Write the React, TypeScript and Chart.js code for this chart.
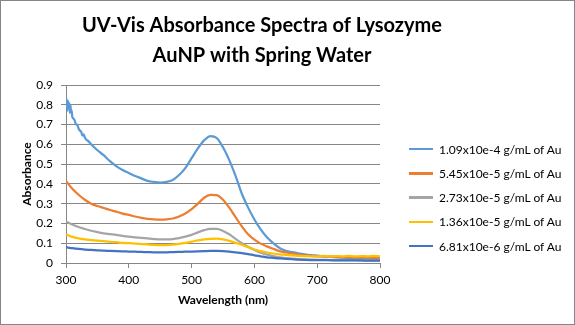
import React, { useEffect, useRef } from 'react';
import { Chart, registerables } from 'chart.js';

Chart.register(...registerables);

const titleLines = ['UV-Vis Absorbance Spectra of Lysozyme', 'AuNP with Spring Water'];
const xTitle = 'Wavelength (nm)';
const yTitle = 'Absorbance';

const wavelengths = [
  300, 310, 320, 330, 340, 350, 360, 370, 380, 390,
  400, 410, 420, 430, 440, 450, 460, 470, 480, 490,
  500, 510, 520, 530, 540, 550, 560, 570, 580, 590,
  600, 610, 620, 630, 640, 650, 660, 670, 680, 690,
  700, 710, 720, 730, 740, 750, 760, 770, 780, 790, 800,
];

const series1 = [
  0.80, 0.74, 0.68, 0.635, 0.60, 0.57, 0.545, 0.515, 0.49, 0.47,
  0.455, 0.44, 0.428, 0.415, 0.41, 0.407, 0.41, 0.42, 0.445, 0.48,
  0.53, 0.58, 0.62, 0.642, 0.632, 0.585, 0.52, 0.44, 0.35, 0.28,
  0.22, 0.17, 0.13, 0.10, 0.076, 0.062, 0.055, 0.049, 0.044, 0.04,
  0.037, 0.034, 0.031, 0.029, 0.027, 0.026, 0.025, 0.024, 0.023, 0.022, 0.022,
];
// noisy start of the strongest spectrum
const series1NoiseWl = [301, 302, 303, 304, 305, 306, 307, 308, 309, 312, 314, 316, 318, 322, 324, 326, 328, 332, 336];
const series1NoiseAbs = [0.83, 0.77, 0.82, 0.79, 0.81, 0.76, 0.80, 0.76, 0.77, 0.73, 0.72, 0.70, 0.70, 0.67, 0.665, 0.645, 0.65, 0.625, 0.615];

const series2 = [
  0.415, 0.375, 0.345, 0.32, 0.30, 0.288, 0.278, 0.268, 0.26, 0.25,
  0.243, 0.235, 0.228, 0.223, 0.22, 0.219, 0.22, 0.225, 0.235, 0.25,
  0.272, 0.30, 0.33, 0.345, 0.343, 0.32, 0.28, 0.232, 0.185, 0.145,
  0.118, 0.098, 0.084, 0.072, 0.06, 0.053, 0.047, 0.042, 0.039, 0.036,
  0.034, 0.033, 0.032, 0.031, 0.03, 0.03, 0.029, 0.028, 0.028, 0.027, 0.027,
];

const series3 = [
  0.21, 0.195, 0.182, 0.172, 0.163, 0.156, 0.15, 0.146, 0.142, 0.137,
  0.133, 0.13, 0.127, 0.124, 0.121, 0.119, 0.119, 0.121, 0.126, 0.133,
  0.142, 0.155, 0.166, 0.172, 0.172, 0.162, 0.145, 0.122, 0.1, 0.082,
  0.066, 0.052, 0.042, 0.035, 0.029, 0.025, 0.022, 0.02, 0.018, 0.017,
  0.016, 0.016, 0.015, 0.015, 0.014, 0.014, 0.014, 0.013, 0.013, 0.013, 0.013,
];

const series4 = [
  0.145, 0.132, 0.124, 0.119, 0.116, 0.113, 0.11, 0.107, 0.105, 0.102,
  0.1, 0.098, 0.096, 0.094, 0.092, 0.091, 0.091, 0.093, 0.097, 0.102,
  0.108, 0.114, 0.119, 0.122, 0.123, 0.12, 0.112, 0.102, 0.092, 0.08,
  0.068, 0.06, 0.053, 0.048, 0.044, 0.041, 0.038, 0.036, 0.035, 0.034,
  0.034, 0.036, 0.033, 0.035, 0.034, 0.036, 0.033, 0.035, 0.034, 0.036, 0.034,
];

const series5 = [
  0.08, 0.075, 0.071, 0.068, 0.066, 0.064, 0.062, 0.061, 0.06, 0.059,
  0.058, 0.057, 0.056, 0.055, 0.054, 0.054, 0.054, 0.055, 0.056, 0.057,
  0.058, 0.059, 0.06, 0.061, 0.061, 0.06, 0.058, 0.054, 0.05, 0.045,
  0.039, 0.034, 0.029, 0.026, 0.023, 0.021, 0.019, 0.017, 0.016, 0.015,
  0.014, 0.014, 0.014, 0.013, 0.013, 0.013, 0.013, 0.013, 0.012, 0.012, 0.012,
];

const seriesLabels = [
  '1.09x10e-4 g/mL of Au',
  '5.45x10e-5 g/mL of Au',
  '2.73x10e-5 g/mL of Au',
  '1.36x10e-5 g/mL of Au',
  '6.81x10e-6 g/mL of Au',
];
const seriesColors = ['#5B9BD5', '#ED7D31', '#A5A5A5', '#FFC000', '#4472C4'];

const xTicks = [300, 400, 500, 600, 700, 800];
const yTicks = [0, 0.1, 0.2, 0.3, 0.4, 0.5, 0.6, 0.7, 0.8, 0.9];

function toPoints(xs: number[], ys: number[]) {
  return xs.map((x, i) => ({ x, y: ys[i] }));
}

export default function App() {
  const ref = useRef<HTMLCanvasElement>(null);

  useEffect(() => {
    const canvas = ref.current;
    if (!canvas) return;
    Chart.defaults.font.family = 'Lato';
    Chart.defaults.color = '#000';
    const grid = '#878787';

    const allValues = [series1, series2, series3, series4, series5];
    const datasets = allValues.map((vals, i) => {
      let pts = toPoints(wavelengths, vals);
      if (i === 0) {
        pts = pts.concat(toPoints(series1NoiseWl, series1NoiseAbs)).sort((a, b) => a.x - b.x);
      }
      return {
        label: seriesLabels[i],
        data: pts,
        borderColor: seriesColors[i],
        backgroundColor: seriesColors[i],
        borderWidth: 2.25,
        pointRadius: 0,
        cubicInterpolationMode: 'monotone' as const,
        order: -i,
        xAxisID: 'x',
        yAxisID: 'y',
      };
    });

    const chart = new Chart(canvas, {
      type: 'line',
      data: { datasets },
      options: {
        animation: false,
        responsive: false,
        devicePixelRatio: 1,
        layout: { padding: { left: 0, right: 51, top: 0, bottom: 0 } },
        plugins: {
          legend: { display: false },
          tooltip: { enabled: false },
          title: {
            display: true,
            text: titleLines,
            color: '#000',
            font: { family: 'Lato', size: 20, weight: 'bold', lineHeight: 1.5 },
            padding: { top: 11, bottom: 14 },
          },
        },
        scales: {
          x: {
            type: 'linear',
            position: 'bottom',
            min: xTicks[0],
            max: xTicks[xTicks.length - 1],
            afterBuildTicks: (s: any) => {
              s.ticks = xTicks.map((v) => ({ value: v }));
            },
            ticks: { padding: 5, color: '#000', font: { size: 12 }, maxRotation: 0, autoSkip: false },
            grid: { drawOnChartArea: false, drawTicks: true, tickLength: 5, color: grid },
            border: { color: grid },
            title: {
              display: true,
              text: xTitle,
              color: '#000',
              font: { size: 12, weight: 'bold' },
              padding: { top: 0, bottom: 18 },
            },
            afterFit: (s: any) => {
              s.height = 62;
            },
          },
          y: {
            type: 'linear',
            position: 'left',
            min: yTicks[0],
            max: yTicks[yTicks.length - 1],
            afterBuildTicks: (s: any) => {
              s.ticks = yTicks.map((v) => ({ value: v }));
            },
            ticks: {
              padding: 8,
              color: '#000',
              font: { size: 12 },
              callback: (v: any) => String(Number(Number(v).toFixed(1))),
            },
            grid: { drawOnChartArea: true, drawTicks: true, tickLength: 5, color: grid },
            border: { color: grid },
            title: {
              display: true,
              text: yTitle,
              color: '#000',
              font: { size: 12, weight: 'bold' },
              padding: { top: 20, bottom: 0 },
            },
            afterFit: (s: any) => {
              s.width = 66;
            },
          },
          y2: {
            type: 'linear',
            position: 'right',
            display: true,
            grid: { display: false, drawTicks: false },
            ticks: { display: false },
            border: { display: false },
            afterFit: (s: any) => {
              s.width = 144;
            },
          },
        },
      },
    });
    return () => chart.destroy();
  }, []);

  return (
    <div style={{ position: 'fixed', left: 0, top: 0, width: 575, height: 325, background: '#fff' }}>
      <canvas ref={ref} width={575} height={325} style={{ display: 'block', width: 575, height: 325 }} />
      {seriesLabels.map((lab, i) => (
        <div
          key={lab}
          style={{
            position: 'absolute',
            left: 409,
            top: 149 + i * 24.25 - 8,
            height: 16,
            display: 'flex',
            alignItems: 'center',
            fontFamily: 'Lato',
            fontSize: 12,
            color: '#000',
            whiteSpace: 'nowrap',
          }}
        >
          <span style={{ display: 'inline-block', width: 24, height: 2.5, background: seriesColors[i], marginRight: 6 }} />
          <span>{lab}</span>
        </div>
      ))}
      <div
        style={{
          position: 'absolute',
          left: 0,
          top: 0,
          width: 575,
          height: 325,
          boxSizing: 'border-box',
          border: '1px solid #868686',
          pointerEvents: 'none',
        }}
      />
    </div>
  );
}
